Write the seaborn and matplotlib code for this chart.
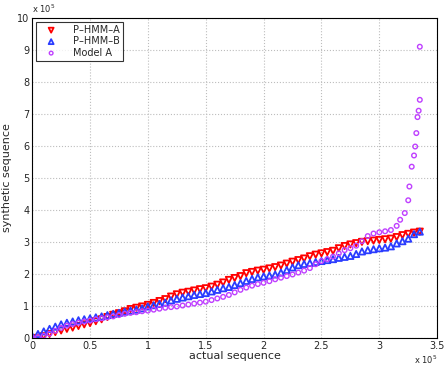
import numpy as np
import pandas as pd
import matplotlib
matplotlib.use("Agg")
import matplotlib.pyplot as plt
import seaborn as sns

# values in units of 1e5
x_a = [0.05, 0.10, 0.15, 0.20, 0.25, 0.30, 0.35, 0.40, 0.45, 0.50, 0.55, 0.60, 0.65, 0.70,
       0.75, 0.80, 0.85, 0.90, 0.95, 1.00, 1.05, 1.10, 1.15, 1.20, 1.25, 1.30, 1.35, 1.40,
       1.45, 1.50, 1.55, 1.60, 1.65, 1.70, 1.75, 1.80, 1.85, 1.90, 1.95, 2.00, 2.05, 2.10,
       2.15, 2.20, 2.25, 2.30, 2.35, 2.40, 2.45, 2.50, 2.55, 2.60, 2.65, 2.70, 2.75, 2.80,
       2.85, 2.90, 2.95, 3.00, 3.05, 3.10, 3.15, 3.20, 3.25, 3.30, 3.35]
y_a = [0.00, 0.05, 0.12, 0.18, 0.23, 0.28, 0.32, 0.37, 0.42, 0.46, 0.52, 0.58, 0.65, 0.72,
       0.77, 0.83, 0.90, 0.94, 0.98, 1.03, 1.09, 1.15, 1.21, 1.29, 1.36, 1.41, 1.44, 1.48,
       1.52, 1.55, 1.60, 1.66, 1.73, 1.81, 1.87, 1.93, 2.02, 2.06, 2.10, 2.13, 2.17, 2.21,
       2.26, 2.32, 2.38, 2.43, 2.48, 2.55, 2.60, 2.64, 2.68, 2.72, 2.80, 2.87, 2.92, 2.96,
       3.00, 3.02, 3.04, 3.06, 3.08, 3.10, 3.15, 3.21, 3.25, 3.29, 3.32]

x_b = [0.00, 0.05, 0.10, 0.15, 0.20, 0.25, 0.30, 0.35, 0.40, 0.45, 0.50, 0.55, 0.60, 0.65,
       0.70, 0.75, 0.80, 0.85, 0.90, 0.95, 1.00, 1.05, 1.10, 1.15, 1.20, 1.25, 1.30, 1.35,
       1.40, 1.45, 1.50, 1.55, 1.60, 1.65, 1.70, 1.75, 1.80, 1.85, 1.90, 1.95, 2.00, 2.05,
       2.10, 2.15, 2.20, 2.25, 2.30, 2.35, 2.40, 2.45, 2.50, 2.55, 2.60, 2.65, 2.70, 2.75,
       2.80, 2.85, 2.90, 2.95, 3.00, 3.05, 3.10, 3.15, 3.20, 3.25, 3.30, 3.35]
y_b = [0.05, 0.12, 0.20, 0.28, 0.35, 0.42, 0.47, 0.51, 0.55, 0.58, 0.61, 0.64, 0.67, 0.71,
       0.75, 0.78, 0.82, 0.85, 0.88, 0.92, 0.98, 1.02, 1.06, 1.10, 1.17, 1.22, 1.26, 1.30,
       1.34, 1.37, 1.40, 1.45, 1.50, 1.55, 1.59, 1.65, 1.71, 1.78, 1.84, 1.89, 1.92, 1.95,
       1.98, 2.04, 2.12, 2.20, 2.27, 2.31, 2.34, 2.37, 2.40, 2.43, 2.46, 2.50, 2.53, 2.56,
       2.62, 2.70, 2.74, 2.77, 2.80, 2.82, 2.86, 2.95, 3.02, 3.10, 3.24, 3.32]

x_m = [0.00, 0.05, 0.10, 0.15, 0.20, 0.25, 0.30, 0.35, 0.40, 0.45, 0.50, 0.55, 0.60, 0.65,
       0.70, 0.75, 0.80, 0.85, 0.90, 0.95, 1.00, 1.05, 1.10, 1.15, 1.20, 1.25, 1.30, 1.35,
       1.40, 1.45, 1.50, 1.55, 1.60, 1.65, 1.70, 1.75, 1.80, 1.85, 1.90, 1.95, 2.00, 2.05,
       2.10, 2.15, 2.20, 2.25, 2.30, 2.35, 2.40, 2.45, 2.50, 2.55, 2.60, 2.65, 2.70, 2.75,
       2.80, 2.85, 2.90, 2.95, 3.00, 3.05, 3.10, 3.15, 3.18, 3.22, 3.25, 3.26, 3.28, 3.30,
       3.31, 3.32, 3.33, 3.34, 3.35, 3.35]
y_m = [0.00, 0.02, 0.06, 0.13, 0.22, 0.31, 0.38, 0.43, 0.47, 0.51, 0.54, 0.58, 0.61, 0.64,
       0.67, 0.71, 0.75, 0.78, 0.80, 0.83, 0.85, 0.88, 0.91, 0.94, 0.96, 0.98, 1.01, 1.04,
       1.07, 1.10, 1.13, 1.18, 1.23, 1.28, 1.34, 1.42, 1.50, 1.57, 1.63, 1.68, 1.72, 1.77,
       1.83, 1.88, 1.93, 1.98, 2.04, 2.10, 2.18, 2.30, 2.40, 2.46, 2.54, 2.64, 2.74, 2.80,
       2.88, 3.02, 3.18, 3.26, 3.30, 3.33, 3.37, 3.50, 3.69, 3.90, 4.30, 4.73, 5.35, 5.70,
       5.98, 6.40, 6.90, 7.10, 7.44, 9.10]

sns.set_style("white")
plt.rcParams["font.family"] = ["DejaVu Sans"]

fig = plt.figure(figsize=(4.47, 3.66), dpi=100)
ax = fig.add_axes([0.072, 0.077, 0.906, 0.874])

sns.scatterplot(x=x_a, y=y_a, marker="v", s=20, facecolor="none", edgecolor="#ff0000",
                linewidth=1.3, label="P\u2013HMM\u2013A", ax=ax)
sns.scatterplot(x=x_b, y=y_b, marker="^", s=20, facecolor="none", edgecolor="#2a3cff",
                linewidth=1.3, label="P\u2013HMM\u2013B", ax=ax)
sns.scatterplot(x=x_m, y=y_m, marker="o", s=11, facecolor="none", edgecolor="#bf3fff",
                linewidth=1.0, label="Model A", ax=ax)

ax.set_xlim(0, 3.5)
ax.set_ylim(0, 10)
ax.set_xticks(np.arange(0, 3.51, 0.5))
ax.set_xticklabels(["0", "0.5", "1", "1.5", "2", "2.5", "3", "3.5"])
ax.set_yticks(range(0, 11))
ax.tick_params(direction="in", labelsize=7, length=3, pad=2)
ax.grid(True, linestyle=":", color="#bdbdbd", linewidth=0.8)
for sp in ax.spines.values():
    sp.set_color("black")
    sp.set_linewidth(0.8)

ax.set_xlabel("actual sequence", fontsize=8, labelpad=0)
ax.set_ylabel("synthetic sequence", fontsize=8, labelpad=4)
ax.text(0.0, 1.01, "x 10$^5$", transform=ax.transAxes, fontsize=6, ha="left", va="bottom")
ax.text(1.0, -0.048, "x 10$^5$", transform=ax.transAxes, fontsize=6, ha="right", va="top")

leg = ax.legend(loc="upper left", fontsize=7, frameon=True, fancybox=False,
                edgecolor="black", borderpad=0.3, handletextpad=1.0, labelspacing=0.15,
                borderaxespad=0.4, handlelength=2.5, markerscale=0.8)
leg.get_frame().set_linewidth(0.8)

fig.savefig("out.png", dpi=100)
